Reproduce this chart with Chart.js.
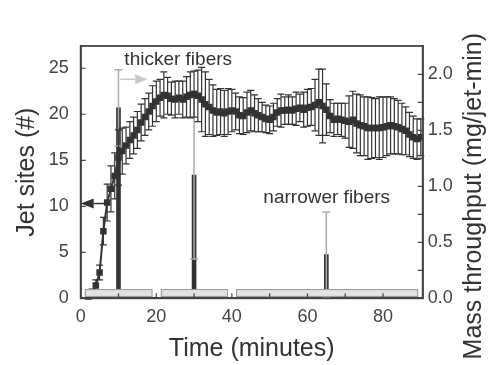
<!DOCTYPE html>
<html>
<head>
<meta charset="utf-8">
<script src="https://cdn.jsdelivr.net/npm/chart.js@4"></script>
<style>
html,body{margin:0;padding:0;background:#fff;}
#wrap{width:490px;height:365px;position:relative;}
</style>
</head>
<body>
<div id="wrap"><canvas id="c" width="490" height="365"></canvas></div>
<script>
// ---- data ----
const jetTimes = [2,3,4,5,6,7,8,9,10,11,12,13,14,15,16,17,18,19,20,21,22,23,24,25,26,27,28,29,30,31,32,33,34,35,36,37,38,39,40,41,42,43,44,45,46,47,48,49,50,51,52,53,54,55,56,57,58,59,60,61,62,63,64,65,66,67,68,69,70,71,72,73,74,75,76,77,78,79,80,81,82,83,84,85,86,87,88,89,90];
const jetSites = [0.2,0.6,1.4,2.8,7.3,10.4,11.9,13.3,15.3,16.0,16.6,17.2,17.7,18.3,19.1,19.7,20.3,20.9,21.4,21.8,22.1,22.0,21.7,21.6,21.8,21.6,21.9,22.1,22.2,22.0,21.6,21.1,20.8,20.4,20.2,20.3,20.1,20.3,20.4,20.3,19.9,19.8,20.2,20.4,20.1,19.9,19.7,19.5,19.4,19.7,20.2,20.4,20.4,20.5,20.4,20.6,20.7,20.5,20.7,20.8,21.0,21.3,20.9,20.5,19.8,19.4,19.5,19.4,19.3,19.2,19.4,19.0,18.8,18.7,18.5,18.5,18.5,18.5,18.6,18.7,18.8,18.7,18.6,18.4,18.2,17.8,17.5,17.3,17.5];
const jetErrors = [0.3,0.4,0.6,0.8,1.5,2.0,2.5,2.5,3.0,2.5,2.0,2.0,2.0,2.0,2.0,2.0,2.0,2.2,2.2,2.0,2.5,2.0,1.8,2.0,1.8,2.0,2.2,2.5,2.5,2.8,3.5,3.5,3.0,2.8,2.5,2.5,2.5,2.5,2.3,2.0,2.0,2.0,2.2,2.2,2.0,1.8,1.6,1.5,1.5,1.5,1.5,1.8,1.5,1.6,1.5,1.8,1.5,1.9,2.0,2.0,2.8,3.6,4.0,2.8,1.8,1.8,1.7,1.8,1.9,2.8,3.1,3.2,3.3,3.2,3.4,3.3,3.2,3.4,3.3,3.2,3.1,3.0,2.9,2.8,2.6,2.4,2.3,2.2,2.0];

const massTimes = [10,30,65];
const massThroughput = [1.70,1.10,0.39];
const massErrors = [0.34,0.75,0.38];

// process periods shown as grey boxes along the time axis (minutes), and their height (jet sites)
const periodStarts = [1.1,21.2,41.1];
const periodEnds = [19.0,39.0,89.3];
const periodLow = 0.15, periodHigh = 1.0;

// arrows indicating which axis each series belongs to
const jetArrow = {from:7.0, to:0.0, y:10.3};          // left axis units
const massArrow = {from:10.5, to:17.6, y:23.8};       // left axis units

const annotations = [
  {text:'thicker fibers', t:25.8, y:25.9},
  {text:'narrower fibers', t:65.1, y:10.9}
];

const xTitle = 'Time (minutes)';
const yTitle = 'Jet sites (#)';
const y2Title = 'Mass throughput (mg/jet-min)';

const FONT = '"Liberation Sans", Arial, sans-serif';
const DARK = '#333';

function drawErr(ctx, x, yTop, yBot, cap, color, lw){
  ctx.save();
  ctx.strokeStyle = color; ctx.lineWidth = lw;
  ctx.beginPath();
  ctx.moveTo(x, yTop); ctx.lineTo(x, yBot);
  ctx.moveTo(x-cap, yTop); ctx.lineTo(x+cap, yTop);
  ctx.moveTo(x-cap, yBot); ctx.lineTo(x+cap, yBot);
  ctx.stroke();
  ctx.restore();
}

function arrow(ctx, x1, y, x2, color, lw, headLen, headHalf){
  ctx.save();
  ctx.strokeStyle = color; ctx.fillStyle = color; ctx.lineWidth = lw;
  const dir = Math.sign(x2 - x1);
  ctx.beginPath();
  ctx.moveTo(x1, y); ctx.lineTo(x2 - dir*headLen, y); ctx.stroke();
  ctx.beginPath();
  ctx.moveTo(x2, y);
  ctx.lineTo(x2 - dir*headLen, y - headHalf);
  ctx.lineTo(x2 - dir*headLen, y + headHalf);
  ctx.closePath(); ctx.fill();
  ctx.restore();
}

const decor = {
  id:'decor',
  afterDatasetDraw(chart, args){
    if (args.index !== 0) return;
    const ctx = chart.ctx, xs = chart.scales.x, y2 = chart.scales.y2;
    massTimes.forEach((t,i)=>{
      const px = xs.getPixelForValue(t);
      drawErr(ctx, px, y2.getPixelForValue(massThroughput[i]+massErrors[i]),
              y2.getPixelForValue(massThroughput[i]-massErrors[i]), 4, '#aaa', 1.5);
    });
  },
  afterDatasetsDraw(chart){
    const ctx = chart.ctx, xs = chart.scales.x, ys = chart.scales.y, y2 = chart.scales.y2;
    const a = chart.chartArea;
    // jet error bars
    jetTimes.forEach((t,i)=>{
      const px = xs.getPixelForValue(t);
      drawErr(ctx, px, ys.getPixelForValue(jetSites[i]+jetErrors[i]),
              ys.getPixelForValue(jetSites[i]-jetErrors[i]), 3.5, DARK, 1.2);
    });
    // period boxes
    ctx.save();
    periodStarts.forEach((s,i)=>{
      const x1 = xs.getPixelForValue(s), x2 = xs.getPixelForValue(periodEnds[i]);
      const yt = ys.getPixelForValue(periodHigh), yb = ys.getPixelForValue(periodLow);
      ctx.fillStyle = '#e2e2e2'; ctx.fillRect(x1, yt, x2-x1, yb-yt);
      ctx.strokeStyle = '#999'; ctx.lineWidth = 1; ctx.strokeRect(x1+0.5, yt+0.5, x2-x1-1, yb-yt-1);
    });
    ctx.restore();
    // arrows
    arrow(ctx, xs.getPixelForValue(jetArrow.from), ys.getPixelForValue(jetArrow.y),
          xs.getPixelForValue(jetArrow.to), DARK, 1.5, 13, 5);
    arrow(ctx, xs.getPixelForValue(massArrow.from), ys.getPixelForValue(massArrow.y),
          xs.getPixelForValue(massArrow.to), '#c8c8c8', 1.5, 12, 5);
    // annotations
    ctx.save();
    ctx.fillStyle = DARK; ctx.font = '19px ' + FONT;
    ctx.textAlign = 'center'; ctx.textBaseline = 'middle';
    annotations.forEach(an=>{
      ctx.fillText(an.text, xs.getPixelForValue(an.t), ys.getPixelForValue(an.y));
    });
    ctx.restore();
    // frame
    ctx.save();
    ctx.strokeStyle = '#444'; ctx.lineWidth = 1.8;
    ctx.strokeRect(a.left, a.top, a.right-a.left, a.bottom-a.top);
    // inward tick marks
    ctx.lineWidth = 1.2;
    ctx.beginPath();
    xs.ticks.forEach(tk=>{
      if (Math.abs(tk.value/10 - Math.round(tk.value/10))>1e-6) return;
      const px = xs.getPixelForValue(tk.value);
      ctx.moveTo(px, a.bottom); ctx.lineTo(px, a.bottom-5);
    });
    ys.ticks.forEach(tk=>{
      if (Math.abs(tk.value/2.5 - Math.round(tk.value/2.5))>1e-6) return;
      const py = ys.getPixelForValue(tk.value);
      ctx.moveTo(a.left, py); ctx.lineTo(a.left+5, py);
    });
    y2.ticks.forEach(tk=>{
      if (Math.abs(tk.value/0.25 - Math.round(tk.value/0.25))>1e-6) return;
      const py = y2.getPixelForValue(tk.value);
      ctx.moveTo(a.right, py); ctx.lineTo(a.right-5, py);
    });
    ctx.stroke();
    ctx.restore();
    // axis titles
    ctx.save();
    ctx.fillStyle = DARK; ctx.font = '25px ' + FONT;
    ctx.textAlign = 'center'; ctx.textBaseline = 'middle';
    const cy = (a.top + a.bottom)/2;
    ctx.fillText(xTitle, (a.left + a.right)/2, a.bottom + 51);
    ctx.save(); ctx.translate(a.left - 54, cy); ctx.rotate(-Math.PI/2); ctx.fillText(yTitle, 0, 0); ctx.restore();
    ctx.save(); ctx.translate(a.right + 51, cy + 24); ctx.rotate(-Math.PI/2); ctx.fillText(y2Title, 0, 0); ctx.restore();
    ctx.restore();
  }
};

const gridOpts = {display:true, drawOnChartArea:false, drawTicks:false, offset:false};
const tickFont = {family: FONT, size: 18};

new Chart(document.getElementById('c'), {
  data: {
    datasets: [
      {
        type:'bar', yAxisID:'y2', order:2,
        data: massTimes.map((t,i)=>({x:t, y:massThroughput[i]})),
        backgroundColor: DARK, barThickness: 4
      },
      {
        type:'line', yAxisID:'y', order:1,
        data: jetTimes.map((t,i)=>({x:t, y:jetSites[i]})),
        borderColor: DARK, borderWidth: 2, pointStyle:'rect',
        pointRadius: 4.6, pointBackgroundColor: DARK, pointBorderColor: DARK,
        pointBorderWidth: 0, tension: 0
      }
    ]
  },
  options: {
    responsive:false, animation:false,
    layout:{padding:{top:46, left:0, right:0, bottom:0}},
    plugins:{legend:{display:false}, tooltip:{enabled:false}},
    scales:{
      x:{
        type:'linear', min:0, max:90.5, offset:false,
        grid:gridOpts, border:{display:true, color:'#444', width:1.8},
        ticks:{stepSize:10, padding:8, color:'#444', font:tickFont, maxRotation:0,
          callback:(v)=> (Math.abs(v%20)<1e-6 ? String(v) : '')},
        afterFit:(s)=>{ s.height = 66.7; }
      },
      y:{
        type:'linear', position:'left', min:0, max:27.42,
        grid:gridOpts, border:{display:true, color:'#444', width:1.8},
        ticks:{stepSize:2.5, padding:12, color:'#444', font:tickFont,
          callback:(v)=> (Math.abs(v%5)<1e-6 ? String(v) : '')},
        afterFit:(s)=>{ s.width = 80.7; }
      },
      y2:{
        type:'linear', position:'right', min:0, max:2.253,
        grid:gridOpts, border:{display:true, color:'#444', width:1.8},
        ticks:{stepSize:0.25, padding:5, color:'#444', font:tickFont,
          callback:(v)=> (Math.abs(v/0.5 - Math.round(v/0.5))<1e-6 ? v.toFixed(1) : '')},
        afterFit:(s)=>{ s.width = 67.3; }
      }
    }
  },
  plugins:[decor]
});
</script>
</body>
</html>
